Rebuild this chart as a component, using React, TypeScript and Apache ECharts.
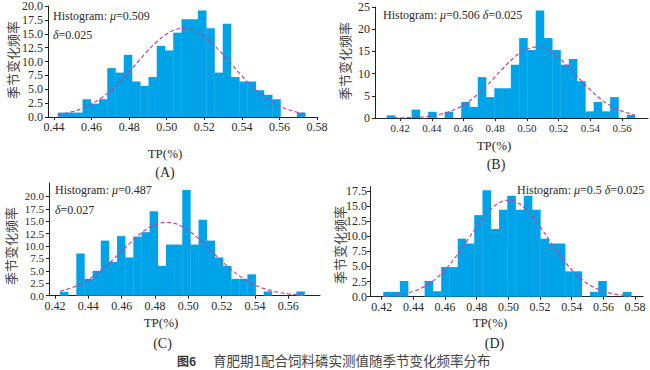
import React, { useEffect, useRef } from "react";
import * as echarts from "echarts";

const SERIF = '"Liberation Serif", "Times New Roman", serif';
const CJK = '"Noto Sans CJK SC", sans-serif';
const BAR = "#00a2e8";
const CURVE = "#c8409a";
const TXT = "#2a2a2a";

// ---- Panel A ----
const binStartA = 0.442;
const binWidthA = 0.00439;
const heightsA = [0.8, 0.8, 0.8, 3.2, 2.4, 3.2, 8.8, 8.0, 11.2, 6.4, 5.6, 7.2, 12.8, 12.0, 15.2, 17.6, 17.6, 19.2, 16.0, 8.0, 16.8, 7.2, 6.4, 6.4, 4.8, 4.0, 3.2, 0, 0, 0.8];
const curveXA = [0.442, 0.445, 0.45, 0.455, 0.46, 0.465, 0.47, 0.475, 0.48, 0.485, 0.49, 0.495, 0.5, 0.505, 0.509, 0.515, 0.52, 0.525, 0.53, 0.535, 0.54, 0.545, 0.55, 0.555, 0.56, 0.565, 0.57, 0.574];
const curveYA = [0.42, 0.6, 0.98, 1.55, 2.34, 3.39, 4.73, 6.33, 8.14, 10.07, 11.95, 13.64, 14.96, 15.76, 15.96, 15.51, 14.49, 13.0, 11.21, 9.29, 7.4, 5.66, 4.16, 2.94, 1.99, 1.3, 0.81, 0.54];
const xTicksA = [0.44, 0.46, 0.48, 0.5, 0.52, 0.54, 0.56, 0.58];
const yTicksA = [0, 2.5, 5, 7.5, 10, 12.5, 15, 17.5, 20];

// ---- Panel B ----
const binStartB = 0.4116;
const binWidthB = 0.00522;
const heightsB = [0.6, 0, 0, 1.9, 0, 1.4, 0, 1.4, 0, 3.6, 2.5, 9.2, 4.7, 6.7, 6.7, 12.0, 18.0, 15.3, 24.2, 18.0, 15.3, 12.0, 13.3, 8.3, 1.5, 3.6, 1.5, 4.7, 0, 0.7];
const curveXB = [0.412, 0.42, 0.425, 0.43, 0.435, 0.44, 0.445, 0.45, 0.455, 0.46, 0.465, 0.47, 0.475, 0.48, 0.485, 0.49, 0.495, 0.5, 0.506, 0.51, 0.515, 0.52, 0.525, 0.53, 0.535, 0.54, 0.545, 0.55, 0.555, 0.56, 0.565, 0.568];
const curveYB = [0.01, 0.04, 0.08, 0.16, 0.28, 0.49, 0.81, 1.3, 1.99, 2.94, 4.16, 5.66, 7.4, 9.29, 11.21, 13.0, 14.49, 15.51, 15.96, 15.76, 14.96, 13.64, 11.95, 10.07, 8.14, 6.33, 4.73, 3.39, 2.34, 1.55, 0.98, 0.74];
const xTicksB = [0.42, 0.44, 0.46, 0.48, 0.5, 0.52, 0.54, 0.56];
const yTicksB = [0, 5, 10, 15, 20, 25];

// ---- Panel C ----
const binStartC = 0.423;
const binWidthC = 0.00489;
const heightsC = [0.75, 0, 8.5, 3.4, 5.0, 11.1, 6.8, 12.0, 7.7, 11.9, 12.8, 17.0, 6.0, 10.3, 10.3, 21.3, 10.3, 15.3, 11.1, 7.7, 6.0, 3.4, 3.4, 4.3, 0, 0.85, 0, 0, 0, 0.85];
const curveXC = [0.423, 0.425, 0.43, 0.435, 0.44, 0.445, 0.45, 0.455, 0.46, 0.465, 0.47, 0.475, 0.48, 0.487, 0.49, 0.495, 0.5, 0.505, 0.51, 0.515, 0.52, 0.525, 0.53, 0.535, 0.54, 0.545, 0.55, 0.555, 0.56, 0.565, 0.57];
const curveYC = [0.89, 1.06, 1.59, 2.31, 3.25, 4.41, 5.78, 7.32, 8.96, 10.6, 12.12, 13.39, 14.29, 14.78, 14.69, 14.15, 13.16, 11.84, 10.28, 8.63, 7.0, 5.49, 4.16, 3.04, 2.15, 1.47, 0.97, 0.62, 0.38, 0.23, 0.13];
const xTicksC = [0.42, 0.44, 0.46, 0.48, 0.5, 0.52, 0.54, 0.56];
const yTicksC = [0, 2.5, 5, 7.5, 10, 12.5, 15, 17.5, 20];

// ---- Panel D ----
const binStartD = 0.421;
const binWidthD = 0.00522;
const heightsD = [0.8, 0.8, 2.6, 0, 0, 2.6, 0.9, 4.9, 4.9, 9.6, 8.8, 13.5, 17.6, 11.2, 14.4, 16.7, 14.4, 16.7, 14.4, 9.6, 8.8, 8.8, 4.2, 4.2, 0, 0.8, 2.6, 0, 0, 0.8];
const curveXD = [0.421, 0.425, 0.43, 0.435, 0.44, 0.445, 0.45, 0.455, 0.46, 0.465, 0.47, 0.475, 0.48, 0.485, 0.49, 0.495, 0.5, 0.505, 0.51, 0.515, 0.52, 0.525, 0.53, 0.535, 0.54, 0.545, 0.55, 0.555, 0.56, 0.565, 0.57, 0.5775];
const curveYD = [0.11, 0.18, 0.32, 0.54, 0.9, 1.42, 2.16, 3.16, 4.44, 5.99, 7.77, 9.68, 11.59, 13.33, 14.73, 15.64, 15.96, 15.64, 14.73, 13.33, 11.59, 9.68, 7.77, 5.99, 4.44, 3.16, 2.16, 1.42, 0.9, 0.54, 0.32, 0.13];
const xTicksD = [0.42, 0.44, 0.46, 0.48, 0.5, 0.52, 0.54, 0.56, 0.58];
const yTicksD = [0, 2.5, 5, 7.5, 10, 12.5, 15, 17.5];

const yName = "季节变化频率";
const xName = "TP(%)";
const caption = "育肥期1配合饲料磷实测值随季节变化频率分布";

const panels = [
  { grid: { left: 48, top: 6, width: 270, height: 111 }, xMin: 0.4368, xMax: 0.5805, xTicks: xTicksA, yMax: 20, yTicks: yTicksA, yDigits: 1, start: binStartA, w: binWidthA, h: heightsA, cx: curveXA, cy: curveYA, xFs: 12, yFs: 12, yMargin: 5, name: [12, 60] },
  { grid: { left: 375, top: 7, width: 273, height: 111 }, xMin: 0.4042, xMax: 0.5764, xTicks: xTicksB, yMax: 25, yTicks: yTicksB, yDigits: 0, start: binStartB, w: binWidthB, h: heightsB, cx: curveXB, cy: curveYB, xFs: 11, yFs: 12, yMargin: 5, name: [344, 61] },
  { grid: { left: 49, top: 183, width: 271, height: 112.7 }, xMin: 0.4164, xMax: 0.579, xTicks: xTicksC, yMax: 22.7, yTicks: yTicksC, yDigits: 1, start: binStartC, w: binWidthC, h: heightsC, cx: curveXC, cy: curveYC, xFs: 12, yFs: 11, yMargin: 5, name: [10, 246] },
  { grid: { left: 370, top: 186.7, width: 273, height: 110 }, xMin: 0.4126, xMax: 0.585, xTicks: xTicksD, yMax: 18.2, yTicks: yTicksD, yDigits: 1, start: binStartD, w: binWidthD, h: heightsD, cx: curveXD, cy: curveYD, xFs: 12, yFs: 12, yMargin: 3, name: [339, 245] },
];

function buildOption() {
  const grid: any[] = [];
  const xAxis: any[] = [];
  const yAxis: any[] = [];
  const series: any[] = [];
  panels.forEach((p, i) => {
    grid.push({ ...p.grid });
    xAxis.push({
      type: "value", gridIndex: i, min: p.xMin, max: p.xMax,
      splitLine: { show: false },
      axisLine: { show: true, lineStyle: { color: "#222", width: 1 } },
      axisTick: { show: true, length: 3, customValues: p.xTicks, lineStyle: { color: "#222" } },
      axisLabel: { customValues: p.xTicks, formatter: (v: number) => v.toFixed(2), fontFamily: SERIF, fontSize: p.xFs, color: TXT, margin: 4 },
    });
    yAxis.push({
      type: "value", gridIndex: i, min: 0, max: p.yMax,
      splitLine: { show: false },
      axisLine: { show: true, lineStyle: { color: "#222", width: 1 } },
      axisTick: { show: true, length: 3, customValues: p.yTicks, lineStyle: { color: "#222" } },
      axisLabel: { customValues: p.yTicks, formatter: (v: number) => v.toFixed(p.yDigits), fontFamily: SERIF, fontSize: p.yFs, lineHeight: p.yFs, color: TXT, margin: p.yMargin },
    });
    const bins = p.h.map((v, k) => [p.start + k * p.w, p.start + (k + 1) * p.w, v]);
    series.push({
      type: "custom", xAxisIndex: i, yAxisIndex: i, data: bins, encode: { x: [0, 1], y: 2 },
      renderItem: (_params: any, api: any) => {
        const hgt = api.value(2);
        if (!hgt) return null;
        const p0 = api.coord([api.value(0), hgt]);
        const p1 = api.coord([api.value(1), 0]);
        return { type: "rect", shape: { x: p0[0], y: p0[1], width: p1[0] - p0[0] + 0.3, height: p1[1] - p0[1] }, style: { fill: BAR } };
      },
      z: 1,
    });
    series.push({
      type: "line", xAxisIndex: i, yAxisIndex: i, smooth: true, showSymbol: false, z: 3,
      data: p.cx.map((x, k) => [x, p.cy[k]]),
      lineStyle: { color: CURVE, width: 1.2, type: [4, 2.5] },
    });
  });

  const rich = { i: { fontStyle: "italic", fontFamily: SERIF, fontSize: 12, fill: TXT } };
  const t = (x: number, y: number, text: string) => ({
    type: "text", x, y,
    style: { text, font: `12px ${SERIF}`, fill: TXT, align: "left", verticalAlign: "middle", rich },
  });
  const yn = (x: number, y: number) => ({
    type: "text", x, y, rotation: Math.PI / 2,
    style: { text: yName, font: `13px ${CJK}`, fill: "#444", align: "center", verticalAlign: "middle" },
  });
  const c = (x: number, y: number, text: string, size = 13) => ({
    type: "text", x, y,
    style: { text, font: `${size}px ${SERIF}`, fill: TXT, align: "center", verticalAlign: "middle" },
  });

  const graphic = [
    t(53, 16, "Histogram: {i|μ}=0.509"),
    t(53, 35, "{i|δ}=0.025"),
    t(383, 15, "Histogram: {i|μ}=0.506 {i|δ}=0.025"),
    t(55, 190, "Histogram: {i|μ}=0.487"),
    t(55, 210, "{i|δ}=0.027"),
    t(517, 190, "Histogram: {i|μ}=0.5 {i|δ}=0.025"),
    ...panels.map((p) => yn(p.name[0], p.name[1])),
    c(165, 153, xName), c(494, 145, xName), c(161, 322, xName), c(490, 322, xName),
    c(165, 172, "(A)", 14), c(496, 164, "(B)", 14), c(162.5, 343, "(C)", 14), c(494.5, 343, "(D)", 14),
    { type: "text", x: 177, y: 360, style: { text: "图6", font: `bold 12px ${CJK}`, fill: "#333", align: "left", verticalAlign: "middle" } },
    { type: "text", x: 213, y: 360, style: { text: caption, font: `13.5px ${CJK}`, fill: "#444", align: "left", verticalAlign: "middle" } },
  ];

  return { animation: false, backgroundColor: "#fff", grid, xAxis, yAxis, series, graphic };
}

export default function App() {
  const ref = useRef<HTMLDivElement>(null);
  useEffect(() => {
    const chart = echarts.init(ref.current!, null, { renderer: "svg" });
    chart.setOption(buildOption() as any);
    return () => chart.dispose();
  }, []);
  return <div ref={ref} style={{ position: "fixed", left: 0, top: 0, width: 650, height: 370, background: "#fff" }} />;
}
